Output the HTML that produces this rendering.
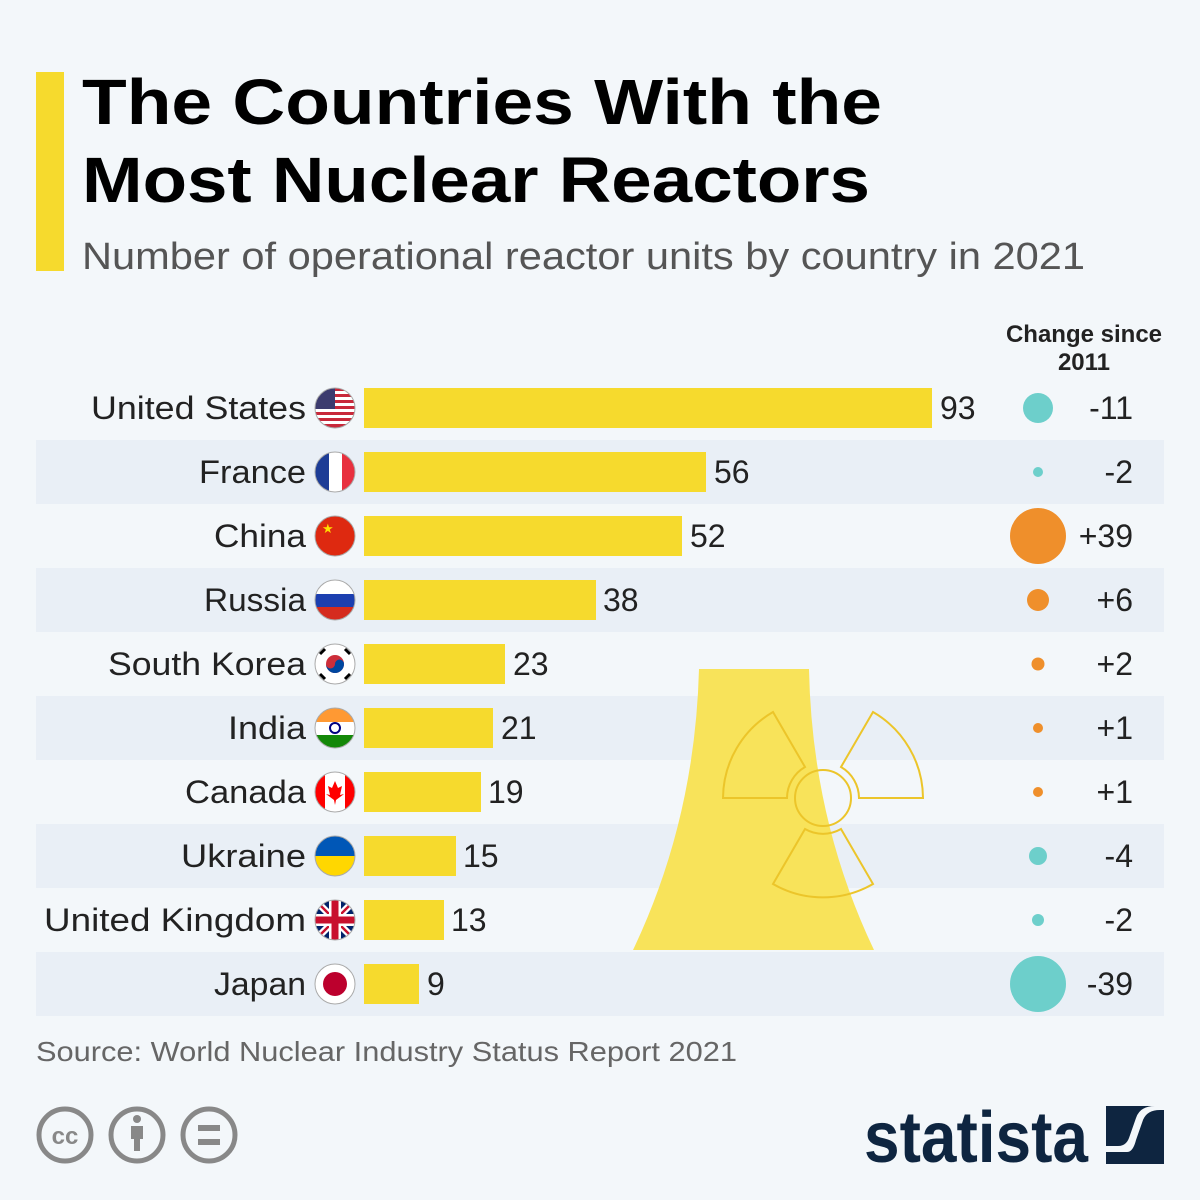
<!DOCTYPE html>
<html><head><meta charset="utf-8"><style>
html,body{margin:0;padding:0;background:#f3f7fa;}
svg{display:block;font-family:"Liberation Sans",sans-serif;}
</style></head><body>
<svg width="1200" height="1200" viewBox="0 0 1200 1200" xmlns="http://www.w3.org/2000/svg">
<rect width="1200" height="1200" fill="#f3f7fa"/>
<rect x="36" y="72" width="28" height="199" fill="#f6da2d"/>
<text x="82" y="124" font-size="64" font-weight="bold" fill="#000" textLength="800" lengthAdjust="spacingAndGlyphs">The Countries With the</text>
<text x="82" y="202" font-size="64" font-weight="bold" fill="#000" textLength="788" lengthAdjust="spacingAndGlyphs">Most Nuclear Reactors</text>
<text x="82" y="269" font-size="38" fill="#555" textLength="1003" lengthAdjust="spacingAndGlyphs">Number of operational reactor units by country in 2021</text>
<text x="1084" y="342" font-size="24" font-weight="bold" fill="#222" text-anchor="middle">Change since</text>
<text x="1084" y="370" font-size="24" font-weight="bold" fill="#222" text-anchor="middle">2011</text>
<g fill="#e9eff6">
<rect x="36" y="440" width="1128" height="64"/>
<rect x="36" y="568" width="1128" height="64"/>
<rect x="36" y="696" width="1128" height="64"/>
<rect x="36" y="824" width="1128" height="64"/>
<rect x="36" y="952" width="1128" height="64"/>
</g>
<path d="M699 669 L809 669 Q812 820 874 950 L633 950 Q695 820 699 669 Z" fill="#f8e35a"/>
<g fill="none" stroke="#ecc52a" stroke-width="2">
<circle cx="823" cy="798" r="28"/>
<path d="M805 767 L773 712 A100 100 0 0 0 723 798 L787 798 A36 36 0 0 1 805 767 Z"/>
<path d="M841 767 L873 712 A100 100 0 0 1 923 798 L859 798 A36 36 0 0 0 841 767 Z"/>
<path d="M805 829 L773 884 A100 100 0 0 0 873 884 L841 829 A36 36 0 0 1 805 829 Z"/>
</g>
<defs>
<clipPath id="c0"><circle cx="335" cy="408" r="20"/></clipPath>
<clipPath id="c1"><circle cx="335" cy="472" r="20"/></clipPath>
<clipPath id="c2"><circle cx="335" cy="536" r="20"/></clipPath>
<clipPath id="c3"><circle cx="335" cy="600" r="20"/></clipPath>
<clipPath id="c4"><circle cx="335" cy="664" r="20"/></clipPath>
<clipPath id="c5"><circle cx="335" cy="728" r="20"/></clipPath>
<clipPath id="c6"><circle cx="335" cy="792" r="20"/></clipPath>
<clipPath id="c7"><circle cx="335" cy="856" r="20"/></clipPath>
<clipPath id="c8"><circle cx="335" cy="920" r="20"/></clipPath>
<clipPath id="c9"><circle cx="335" cy="984" r="20"/></clipPath>
</defs>
<g clip-path="url(#c0)"><rect x="315" y="388" width="40" height="40" fill="#fff"/>
<g fill="#c8283a"><rect x="315" y="388" width="40" height="3"/><rect x="315" y="394" width="40" height="3"/><rect x="315" y="400" width="40" height="3"/><rect x="315" y="406" width="40" height="3"/><rect x="315" y="412" width="40" height="3"/><rect x="315" y="418" width="40" height="3"/><rect x="315" y="424" width="40" height="4"/></g>
<rect x="315" y="388" width="20" height="21" fill="#3c3b6e"/></g>
<g clip-path="url(#c1)"><rect x="315" y="452" width="14" height="40" fill="#1d3c96"/><rect x="329" y="452" width="13" height="40" fill="#fff"/><rect x="342" y="452" width="13" height="40" fill="#e8303f"/></g>
<g clip-path="url(#c2)"><rect x="315" y="516" width="40" height="40" fill="#de2910"/><text x="322" y="533" font-size="13" fill="#ffde00">★</text></g>
<g clip-path="url(#c3)"><rect x="315" y="580" width="40" height="14" fill="#fff"/><rect x="315" y="594" width="40" height="13" fill="#1c3fb0"/><rect x="315" y="607" width="40" height="13" fill="#d52b1e"/></g>
<g clip-path="url(#c4)"><rect x="315" y="644" width="40" height="40" fill="#fff"/><circle cx="335" cy="664" r="9" fill="#cd2e3a"/><path d="M326 664 A9 9 0 0 0 344 664 A4.5 4.5 0 0 0 335 664 A4.5 4.5 0 0 1 326 664Z" fill="#0047a0"/><g stroke="#000" stroke-width="3"><line x1="320" y1="654" x2="325" y2="649"/><line x1="345" y1="649" x2="350" y2="654"/><line x1="320" y1="674" x2="325" y2="679"/><line x1="345" y1="679" x2="350" y2="674"/></g></g>
<g clip-path="url(#c5)"><rect x="315" y="708" width="40" height="14" fill="#ff9933"/><rect x="315" y="722" width="40" height="13" fill="#fff"/><rect x="315" y="735" width="40" height="13" fill="#138808"/><circle cx="335" cy="728" r="5" fill="none" stroke="#000080" stroke-width="2"/></g>
<g clip-path="url(#c6)"><rect x="315" y="772" width="40" height="40" fill="#fff"/><rect x="315" y="772" width="10" height="40" fill="#ff0000"/><rect x="345" y="772" width="10" height="40" fill="#ff0000"/><path d="M335 781 L338 788 L342 786 L340 795 L344 794 L336 800 L335 805 L334 800 L326 794 L330 795 L328 786 L332 788Z" fill="#ff0000"/></g>
<g clip-path="url(#c7)"><rect x="315" y="836" width="40" height="20" fill="#0057b7"/><rect x="315" y="856" width="40" height="20" fill="#ffd700"/></g>
<g clip-path="url(#c8)"><rect x="315" y="900" width="40" height="40" fill="#012169"/><g stroke="#fff" stroke-width="7"><line x1="315" y1="900" x2="355" y2="940"/><line x1="355" y1="900" x2="315" y2="940"/></g><g stroke="#c8102e" stroke-width="2.5"><line x1="315" y1="900" x2="355" y2="940"/><line x1="355" y1="900" x2="315" y2="940"/></g><rect x="315" y="914" width="40" height="12" fill="#fff"/><rect x="329" y="900" width="12" height="40" fill="#fff"/><rect x="315" y="916.5" width="40" height="7" fill="#c8102e"/><rect x="331.5" y="900" width="7" height="40" fill="#c8102e"/></g>
<g clip-path="url(#c9)"><rect x="315" y="964" width="40" height="40" fill="#fff"/><circle cx="335" cy="984" r="12" fill="#bc002d"/></g>
<g fill="none" stroke="#aaa" stroke-width="1">
<circle cx="335" cy="408" r="20"/><circle cx="335" cy="472" r="20"/><circle cx="335" cy="536" r="20"/><circle cx="335" cy="600" r="20"/><circle cx="335" cy="664" r="20"/><circle cx="335" cy="728" r="20"/><circle cx="335" cy="792" r="20"/><circle cx="335" cy="856" r="20"/><circle cx="335" cy="920" r="20"/><circle cx="335" cy="984" r="20"/>
</g>
<g fill="#f6da2d">
<rect x="364" y="388" width="568" height="40"/>
<rect x="364" y="452" width="342" height="40"/>
<rect x="364" y="516" width="318" height="40"/>
<rect x="364" y="580" width="232" height="40"/>
<rect x="364" y="644" width="141" height="40"/>
<rect x="364" y="708" width="129" height="40"/>
<rect x="364" y="772" width="117" height="40"/>
<rect x="364" y="836" width="92" height="40"/>
<rect x="364" y="900" width="80" height="40"/>
<rect x="364" y="964" width="55" height="40"/>
</g>
<g font-size="32" fill="#222" lengthAdjust="spacingAndGlyphs">
<text x="91" y="419" textLength="215" lengthAdjust="spacingAndGlyphs">United States</text>
<text x="199" y="483" textLength="107" lengthAdjust="spacingAndGlyphs">France</text>
<text x="214" y="547" textLength="92" lengthAdjust="spacingAndGlyphs">China</text>
<text x="204" y="611" textLength="102" lengthAdjust="spacingAndGlyphs">Russia</text>
<text x="108" y="675" textLength="198" lengthAdjust="spacingAndGlyphs">South Korea</text>
<text x="228" y="739" textLength="78" lengthAdjust="spacingAndGlyphs">India</text>
<text x="185" y="803" textLength="121" lengthAdjust="spacingAndGlyphs">Canada</text>
<text x="181" y="867" textLength="125" lengthAdjust="spacingAndGlyphs">Ukraine</text>
<text x="44" y="931" textLength="262" lengthAdjust="spacingAndGlyphs">United Kingdom</text>
<text x="214" y="995" textLength="92" lengthAdjust="spacingAndGlyphs">Japan</text>
</g>
<g font-size="32" fill="#222">
<text x="940" y="419">93</text>
<text x="714" y="483">56</text>
<text x="690" y="547">52</text>
<text x="603" y="611">38</text>
<text x="513" y="675">23</text>
<text x="501" y="739">21</text>
<text x="488" y="803">19</text>
<text x="463" y="867">15</text>
<text x="451" y="931">13</text>
<text x="427" y="995">9</text>
</g>
<circle cx="1038" cy="408" r="15" fill="#6dcfcb"/>
<circle cx="1038" cy="472" r="5" fill="#6dcfcb"/>
<circle cx="1038" cy="536" r="28" fill="#ef8f2b"/>
<circle cx="1038" cy="600" r="11" fill="#ef8f2b"/>
<circle cx="1038" cy="664" r="6.5" fill="#ef8f2b"/>
<circle cx="1038" cy="728" r="5" fill="#ef8f2b"/>
<circle cx="1038" cy="792" r="5" fill="#ef8f2b"/>
<circle cx="1038" cy="856" r="9" fill="#6dcfcb"/>
<circle cx="1038" cy="920" r="6" fill="#6dcfcb"/>
<circle cx="1038" cy="984" r="28" fill="#6dcfcb"/>
<g font-size="32" fill="#222" text-anchor="end">
<text x="1133" y="419">-11</text>
<text x="1133" y="483">-2</text>
<text x="1133" y="547">+39</text>
<text x="1133" y="611">+6</text>
<text x="1133" y="675">+2</text>
<text x="1133" y="739">+1</text>
<text x="1133" y="803">+1</text>
<text x="1133" y="867">-4</text>
<text x="1133" y="931">-2</text>
<text x="1133" y="995">-39</text>
</g>
<text x="36" y="1061" font-size="28" fill="#666" textLength="701" lengthAdjust="spacingAndGlyphs">Source: World Nuclear Industry Status Report 2021</text>
<g fill="none" stroke="#888" stroke-width="5">
<circle cx="65" cy="1135" r="26"/><circle cx="137" cy="1135" r="26"/><circle cx="209" cy="1135" r="26"/>
</g>
<text x="65" y="1144" font-size="24" font-weight="bold" fill="#888" text-anchor="middle">cc</text>
<circle cx="137" cy="1119" r="4" fill="#888"/>
<rect x="131" y="1126" width="12" height="13" fill="#888"/><rect x="134" y="1139" width="6" height="12" fill="#888"/>
<rect x="198" y="1125" width="22" height="6" fill="#888"/><rect x="198" y="1139" width="22" height="6" fill="#888"/>
<text x="864" y="1162" font-size="72" font-weight="bold" fill="#0e2540" textLength="224" lengthAdjust="spacingAndGlyphs">statista</text>
<rect x="1106" y="1106" width="58" height="58" fill="#0e2540"/>
<path d="M1106 1152 L1127 1152 Q1133 1152 1136 1140 L1143 1120 Q1147 1110 1160 1110 L1164 1110 L1164 1106 L1155 1106 Q1140 1106 1136 1118 L1129 1138 Q1126 1146 1118 1146 L1106 1146Z" fill="#f3f7fa"/>
</svg>
</body></html>
